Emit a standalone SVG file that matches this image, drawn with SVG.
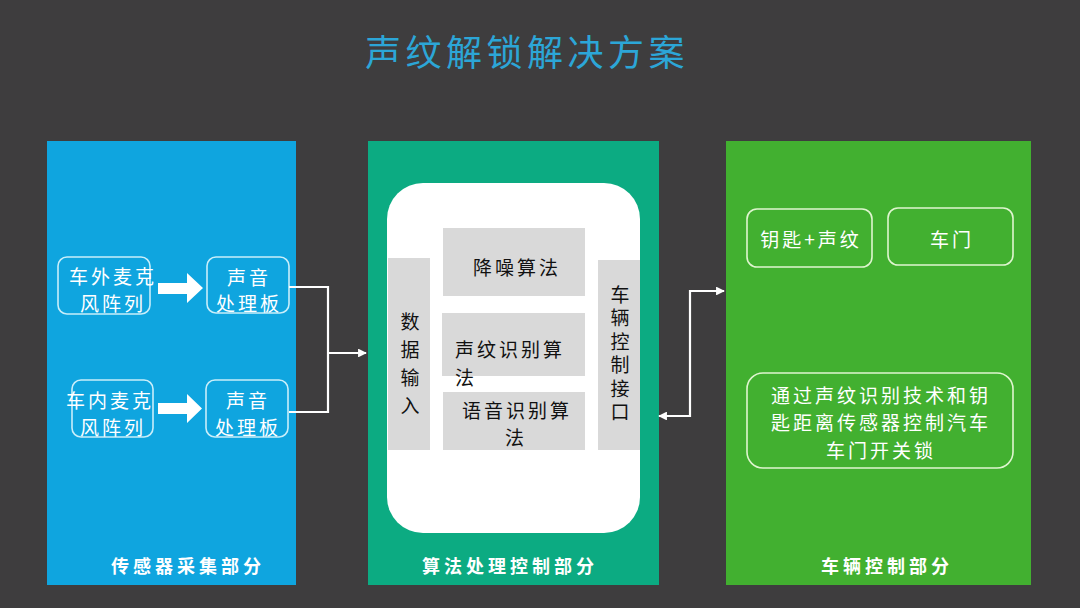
<svg xmlns="http://www.w3.org/2000/svg" width="1080" height="608" viewBox="0 0 1080 608">
<defs>
<style>
text{font-family:"Noto Sans CJK SC","Noto Sans",sans-serif;}
.t{fill:#ffffff;font-size:19px;letter-spacing:3px;text-anchor:middle;}
.k{fill:#111111;font-size:19px;letter-spacing:3px;text-anchor:middle;}
.kl{fill:#111111;font-size:19px;letter-spacing:3px;}
.v{fill:#111111;font-size:19px;writing-mode:vertical-rl;text-anchor:start;}
.lab{fill:#ffffff;font-size:18px;font-weight:bold;letter-spacing:4px;text-anchor:middle;}
.bb{fill:none;stroke:#c9eefa;stroke-width:1.6;}
.gb{fill:none;stroke:#dff5cf;stroke-width:1.6;}
.gray{fill:#d9d9d9;}
.con{fill:none;stroke:#ffffff;stroke-width:2.2;}
</style>
<marker id="ah" viewBox="0 0 10 10" refX="9" refY="5" markerWidth="4" markerHeight="4" orient="auto-start-reverse">
<path d="M0,0 L10,5 L0,10 z" fill="#ffffff"/>
</marker>
</defs>
<rect width="1080" height="608" fill="#3e3d3e"/>
<text id="title" x="527" y="66" style="font-size:36px;letter-spacing:4.5px;text-anchor:middle;fill:#2ca6d7">声纹解锁解决方案</text>

<g id="panel-sensor">
<rect x="47" y="141" width="249" height="444" fill="#0fa5df"/>
<text class="lab" x="188" y="573">传感器采集部分</text>
</g>
<g id="mic-out">
<rect class="bb" x="58" y="257" width="92" height="57" rx="9"/>
<text class="t" x="113" y="284">车外麦克</text>
<text class="t" x="113" y="311">风阵列</text>
</g>
<g id="arrow-1"><path d="M158,283 H187 V273 L203,288 L187,303 V294 H158 z" fill="#ffffff"/></g>
<g id="proc-1">
<rect class="bb" x="207" y="257" width="82" height="56" rx="9"/>
<text class="t" x="249" y="285">声音</text>
<text class="t" x="249" y="311">处理板</text>
</g>
<g id="mic-in">
<rect class="bb" x="72" y="380" width="81" height="57" rx="9"/>
<text class="t" x="110" y="408">车内麦克</text>
<text class="t" x="113" y="435">风阵列</text>
</g>
<g id="arrow-2"><path d="M158,403 H187 V394 L202,408.5 L187,423 V414 H158 z" fill="#ffffff"/></g>
<g id="proc-2">
<rect class="bb" x="206" y="380" width="82" height="57" rx="9"/>
<text class="t" x="248" y="408">声音</text>
<text class="t" x="248" y="435">处理板</text>
</g>

<g id="panel-algo">
<rect x="368" y="141" width="291" height="444" fill="#0cab82"/>
<rect x="387" y="183" width="253" height="350" rx="36" fill="#ffffff"/>
<text class="lab" x="510" y="573">算法处理控制部分</text>
</g>
<g id="denoise">
<rect class="gray" x="443" y="228" width="142" height="68"/>
<text class="k" x="517" y="275">降噪算法</text>
</g>
<g id="vp-algo">
<rect class="gray" x="442" y="313" width="143" height="63"/>
<text class="kl" x="455" y="357">声纹识别算</text>
<text class="kl" x="455" y="385">法</text>
</g>
<g id="sr-algo">
<rect class="gray" x="443" y="392" width="142" height="58"/>
<text class="k" x="517" y="418">语音识别算</text>
<text class="k" x="516" y="445">法</text>
</g>
<g id="data-in">
<rect class="gray" x="388" y="258" width="42" height="192"/>
<text class="v" x="410" y="312" style="letter-spacing:9px">数据输入</text>
</g>
<g id="vehicle-if">
<rect class="gray" x="598" y="260" width="42" height="190"/>
<text class="v" x="620" y="285" style="letter-spacing:4.5px">车辆控制接口</text>
</g>

<g id="panel-vehicle">
<rect x="726" y="141" width="305" height="444" fill="#42b030"/>
<text class="lab" x="887" y="573">车辆控制部分</text>
</g>
<g id="key-vp">
<rect class="gb" x="747" y="209" width="125" height="58" rx="10"/>
<text class="t" x="811" y="247">钥匙+声纹</text>
</g>
<g id="door">
<rect class="gb" x="888" y="208" width="125" height="57" rx="10"/>
<text class="t" x="952" y="247">车门</text>
</g>
<g id="desc">
<rect class="gb" x="747" y="373" width="266" height="95" rx="16"/>
<text class="t" x="881" y="403">通过声纹识别技术和钥</text>
<text class="t" x="881" y="430">匙距离传感器控制汽车</text>
<text class="t" x="881" y="458">车门开关锁</text>
</g>

<g id="connectors">
<path class="con" d="M289,287 H328 V412 H289"/>
<path class="con" d="M328,353 H366" marker-end="url(#ah)"/>
<path class="con" d="M659,416 H690 V291 H724" marker-start="url(#ah)" marker-end="url(#ah)"/>
</g>
</svg>
